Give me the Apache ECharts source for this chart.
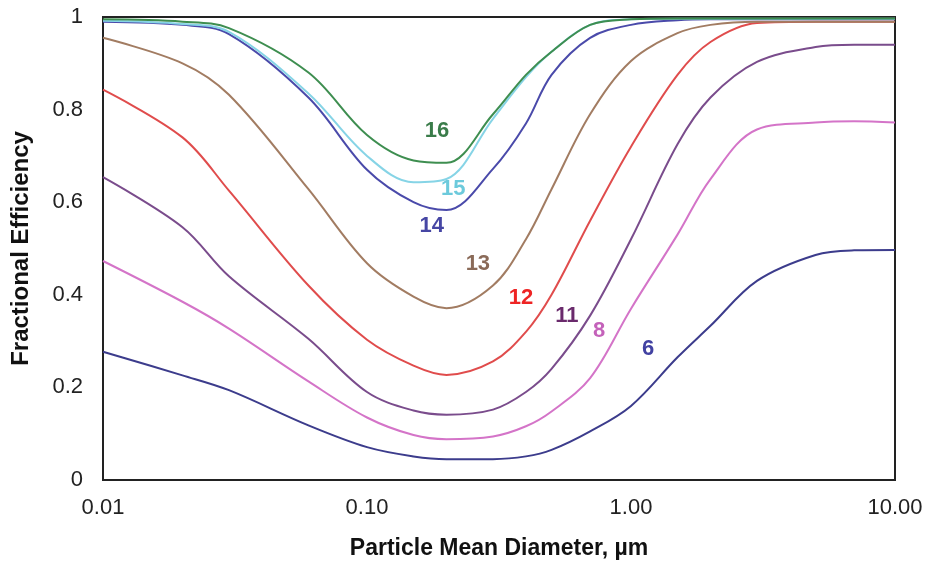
<!DOCTYPE html>
<html>
<head>
<meta charset="utf-8">
<script src="https://cdn.jsdelivr.net/npm/echarts@6/dist/echarts.min.js"></script>
<style>
  html, body { margin: 0; padding: 0; background: #fff; }
  #chart { width: 926px; height: 565px; }
</style>
</head>
<body>
<div id="chart"></div>
<script>
// particle diameters, µm
var diameters = [0.01, 0.02, 0.03, 0.06, 0.1, 0.15, 0.2, 0.3, 0.4, 0.5, 0.7, 1, 1.5, 2, 3, 5, 7, 10]

// fractional efficiency per MERV curve
var eff6  = [0.277, 0.226, 0.194, 0.118, 0.071, 0.051, 0.045, 0.045, 0.051, 0.065, 0.105, 0.160, 0.265, 0.333, 0.430, 0.486, 0.496, 0.497]
var eff8  = [0.473, 0.385, 0.327, 0.213, 0.135, 0.097, 0.088, 0.094, 0.116, 0.148, 0.220, 0.370, 0.530, 0.650, 0.757, 0.772, 0.775, 0.772]
var eff11 = [0.654, 0.546, 0.440, 0.305, 0.190, 0.150, 0.141, 0.152, 0.190, 0.240, 0.355, 0.520, 0.725, 0.826, 0.903, 0.935, 0.940, 0.940]
var eff12 = [0.843, 0.740, 0.625, 0.420, 0.303, 0.247, 0.227, 0.256, 0.320, 0.400, 0.560, 0.720, 0.875, 0.946, 0.987, 0.990, 0.990, 0.990]
var eff13 = [0.955, 0.900, 0.832, 0.628, 0.468, 0.396, 0.371, 0.420, 0.520, 0.628, 0.790, 0.905, 0.965, 0.983, 0.990, 0.990, 0.990, 0.990]
var eff14 = [0.990, 0.983, 0.963, 0.826, 0.670, 0.600, 0.583, 0.672, 0.770, 0.875, 0.955, 0.983, 0.993, 0.995, 0.995, 0.995, 0.995, 0.995]
var eff15 = [0.992, 0.985, 0.968, 0.835, 0.700, 0.643, 0.650, 0.780, 0.870, 0.925, 0.983, 0.995, 0.996, 0.996, 0.996, 0.996, 0.996, 0.996]
var eff16 = [0.995, 0.990, 0.976, 0.880, 0.745, 0.690, 0.685, 0.790, 0.875, 0.925, 0.983, 0.995, 0.997, 0.997, 0.997, 0.997, 0.997, 0.997]

var curveNames  = ['6', '8', '11', '12', '13', '14', '15', '16']
var curveData   = [eff6, eff8, eff11, eff12, eff13, eff14, eff15, eff16]
var lineColors  = ['#3c3c8c', '#d474c8', '#7a4c8c', '#e04c4c', '#a27c62', '#4a4aaa', '#86d4e6', '#3e8e50']
var labelColors = ['#4242a2', '#c462ba', '#6a2a6c', '#ee2424', '#8a6a58', '#4646a4', '#6ccadc', '#3a7c4a']
// where each curve's number sits [diameter, efficiency]
var labelPos = [[1.16, 0.284], [0.757, 0.323], [0.572, 0.355], [0.383, 0.394],
                [0.263, 0.467], [0.176, 0.548], [0.212, 0.628], [0.184, 0.753]]

var font = 'Liberation Sans, Arial, sans-serif'

var chart = echarts.init(document.getElementById('chart'))

var series = curveNames.map(function (name, i) {
  return {
    name: name,
    type: 'line',
    smooth: 0.35,
    symbol: 'none',
    lineStyle: { width: 2, color: lineColors[i] },
    data: diameters.map(function (d, j) { return [d, curveData[i][j]] }),
    markPoint: {
      symbol: 'circle',
      symbolSize: 0,
      label: {
        show: true,
        formatter: name,
        color: labelColors[i],
        fontSize: 22,
        fontWeight: 'bold',
        fontFamily: font
      },
      data: [{ coord: labelPos[i] }]
    }
  }
})

chart.setOption({
  animation: false,
  grid: {
    left: 103,
    right: 31,
    top: 17,
    bottom: 83,
    show: true,
    borderColor: '#222',
    borderWidth: 2,
    backgroundColor: '#fff'
  },
  xAxis: {
    type: 'log',
    logBase: 10,
    min: 0.01,
    max: 10,
    name: 'Particle Mean Diameter, µm',
    nameLocation: 'middle',
    nameGap: 57,
    nameTextStyle: { fontSize: 23, fontWeight: 'bold', color: '#111', fontFamily: font },
    axisLine: { show: false },
    axisTick: { show: false },
    splitLine: { show: false },
    axisLabel: {
      fontSize: 22,
      color: '#222',
      margin: 17,
      fontFamily: font,
      formatter: function (v) { return v.toFixed(2) }
    }
  },
  yAxis: {
    type: 'value',
    min: 0,
    max: 1,
    interval: 0.2,
    name: 'Fractional Efficiency',
    nameLocation: 'middle',
    nameGap: 70,
    nameTextStyle: { fontSize: 24, fontWeight: 'bold', color: '#111', fontFamily: font },
    axisLine: { show: false },
    axisTick: { show: false },
    splitLine: { show: false },
    axisLabel: {
      fontSize: 22,
      color: '#222',
      margin: 20,
      fontFamily: font,
      formatter: function (v) { return (v === 0 || v === 1) ? String(v) : v.toFixed(1) }
    }
  },
  series: series
})
</script>
</body>
</html>
